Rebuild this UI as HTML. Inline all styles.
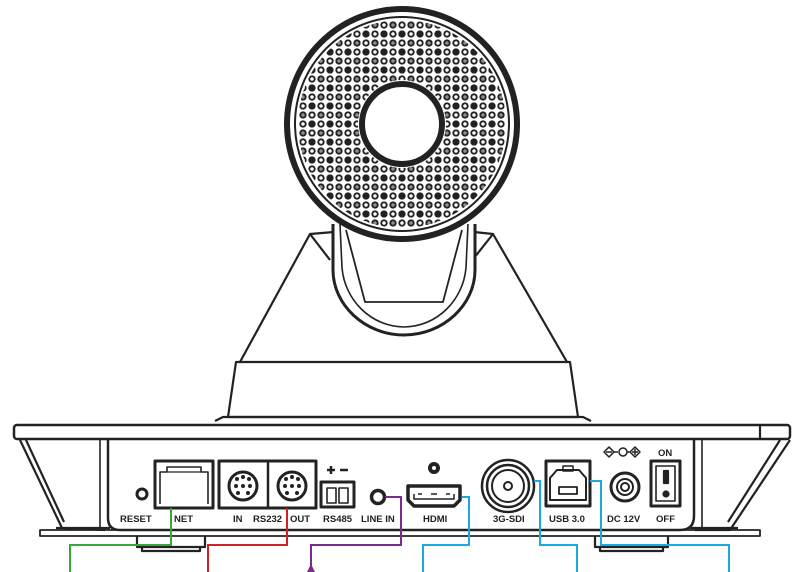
<!DOCTYPE html>
<html><head><meta charset="utf-8"><style>
html,body{margin:0;padding:0;background:#fff}
svg{display:block}
text{font-family:"Liberation Sans",sans-serif;font-weight:bold;font-size:9.5px;fill:#222}
</style></head><body>
<svg width="800" height="572" viewBox="0 0 800 572" xmlns="http://www.w3.org/2000/svg">
<defs>
<pattern id="p" width="9" height="9" patternUnits="userSpaceOnUse" x="397.5" y="119.5">
<circle cx="4.5" cy="4.5" r="2.7" fill="none" stroke="#222" stroke-width="1.9"/>
</pattern>
<pattern id="q" width="18" height="18" patternUnits="userSpaceOnUse" x="397.5" y="119.5">
<circle cx="4.5" cy="4.5" r="2.7" fill="#222"/>
<circle cx="13.5" cy="13.5" r="2.7" fill="#222" opacity="0.5"/>
</pattern>
</defs>
<g fill="none" stroke="#222" stroke-width="2.2" stroke-linejoin="round">
<path d="M240,362 L310,234 L334,232 M474,232 L493,234 L567,362" />
<path d="M310,234 L330,260 M493,234 L474,258"/>
<path d="M333,224 L333,270 C333,305 365,335 404,335 C443,335 475,305 475,270 L475,224" stroke-width="3"/>
<path d="M340,224 L342,268 C345,300 370,326 404,327 C438,326 463,300 466,268 L468,224" stroke-width="1.6"/>
<path d="M346,230 L365,302 L443,302 L462,230" stroke-width="1.8"/>
<path d="M236,362 L570,362 L578,417 L228,417 Z"/>
<path d="M215,421 L223,417 L583,417 L591,421"/>
<rect x="14" y="425" width="776" height="14" rx="3" stroke-width="2.5"/>
<line x1="760" y1="425" x2="760" y2="439"/>
<path d="M20,440 L62,528 L105,530 M26,440 L64,522"/>
<path d="M790,440 L730,530 L695,530 M780,440 L728,522"/>
<path d="M108,440 L108,518 Q108,530 120,530 L680,530 Q694,530 694,516 L694,440" stroke-width="2.5"/>
<path d="M100,440 L100,530 M702,440 L702,530" stroke-width="1.6"/>
<path d="M56,528 L110,528 M690,528 L738,528" />
<rect x="40" y="530" width="720" height="6" stroke-width="1.8"/>
<path d="M137,536 L137,547 L205,547 L205,536 M142,547 L142,551 L200,551 L200,547" />
<path d="M595,536 L595,547 L668,547 L668,536 M600,547 L600,551 L663,551 L663,547" />
<circle cx="142" cy="494" r="5" stroke-width="3"/>
<rect x="155" y="461" width="58" height="47" stroke-width="3"/>
<path d="M160,504 L160,472 L167,472 L167,467 L201,467 L201,472 L208,472 L208,504" stroke-width="1.6"/>
<path d="M167,472 L201,472" stroke-width="1.2"/>
<rect x="219" y="461" width="97" height="47" stroke-width="3"/>
<line x1="268" y1="461" x2="268" y2="508" stroke-width="2.5"/>
<circle cx="243" cy="486" r="14" stroke-width="3"/>
<circle cx="292" cy="486" r="14" stroke-width="3"/>
<rect x="321" y="482" width="33" height="25" stroke-width="3"/>
<rect x="327" y="488" width="9" height="15" stroke-width="1.6"/>
<rect x="339" y="488" width="9" height="15" stroke-width="1.6"/>
<path d="M327,470 h8 M331,466 v8 M340,470 h8" stroke-width="2.5"/>
<circle cx="378" cy="497" r="6.5" stroke-width="3.5"/>
<circle cx="434" cy="468" r="4" stroke-width="4"/>
<path d="M408,486 L460,486 L460,500 L454,506 L414,506 L408,500 Z" stroke-width="3.5"/>
<path d="M414,494 v5 h40 v-5 M418,494 h4 M431,494 h6 M446,494 h4" stroke-width="1.5"/>
<circle cx="508" cy="486" r="26" stroke-width="2.5"/>
<circle cx="508" cy="486" r="21" stroke-width="2.5"/>
<circle cx="508" cy="486" r="16" stroke-width="2"/>
<circle cx="508" cy="486" r="4" stroke-width="2"/>
<rect x="546" y="461" width="44" height="45" stroke-width="3"/>
<path d="M550,500 L550,478 L557,470 L579,470 L586,478 L586,500 Z" stroke-width="2"/>
<rect x="563" y="466" width="10" height="5" stroke-width="1.5"/>
<rect x="559" y="487" width="18" height="7" stroke-width="1.8"/>
<circle cx="625" cy="487" r="14" stroke-width="3"/>
<circle cx="625" cy="487" r="8" stroke-width="2"/>
<circle cx="625" cy="487" r="4" stroke-width="2"/>
<path d="M604,452 l5,-5 l5,5 l-5,5 z M614,452 h4 M627,452 h4 M630,452 l5,-5 l5,5 l-5,5 z M606,452 h6 M632,452 h6 M635,449 v6" stroke-width="1.5"/>
<circle cx="623" cy="452" r="4" stroke-width="1.5"/>
<rect x="651" y="461" width="29" height="45" stroke-width="3"/>
<rect x="656" y="466" width="19" height="35" stroke-width="1.6"/>
<rect x="664" y="471" width="4" height="12" fill="#222"/>
<circle cx="666" cy="494" r="2.5" fill="#222"/>
</g>
<!-- mini-DIN pins -->
<g fill="#222">
<circle cx="237" cy="479" r="2"/><circle cx="243" cy="477" r="2"/><circle cx="249" cy="479" r="2"/>
<circle cx="236" cy="486" r="2"/><circle cx="243" cy="486" r="2"/><circle cx="250" cy="486" r="2"/>
<circle cx="238" cy="493" r="2"/><circle cx="248" cy="493" r="2"/>
<circle cx="286" cy="479" r="2"/><circle cx="292" cy="477" r="2"/><circle cx="298" cy="479" r="2"/>
<circle cx="285" cy="486" r="2"/><circle cx="292" cy="486" r="2"/><circle cx="299" cy="486" r="2"/>
<circle cx="287" cy="493" r="2"/><circle cx="297" cy="493" r="2"/>
</g>
<!-- lens -->
<path d="M402,20 a104,104 0 1,0 0.01,0 Z M402,80 a44,44 0 1,1 -0.01,0 Z" fill="url(#p)" fill-rule="evenodd"/>
<path d="M402,20 a104,104 0 1,0 0.01,0 Z M402,80 a44,44 0 1,1 -0.01,0 Z" fill="url(#q)" fill-rule="evenodd"/>
<circle cx="402" cy="124" r="115" fill="none" stroke="#222" stroke-width="6"/>
<circle cx="402" cy="124" r="107" fill="none" stroke="#222" stroke-width="2"/>
<circle cx="402" cy="124" r="40" fill="none" stroke="#222" stroke-width="6"/>
<g fill="none" stroke-width="2">
<path d="M171,508 V545 H70 V572" stroke="#3aa53a"/>
<path d="M287,508 V545 H208 V572" stroke="#d42020"/>
<path d="M385,497 H401 V545 H311 V572" stroke="#7b2b8e"/>
<path d="M462,497 H469 V545 H423 V572" stroke="#1aa9e0"/>
<path d="M534,481 H540 V545 H577 V572" stroke="#1aa9e0"/>
<path d="M590,481 H601 V545 H729 V572" stroke="#1aa9e0"/>
</g>
<path d="M307,572 L311,564 L315,572 Z" fill="#7b2b8e"/>
<text x="120" y="522">RESET</text>
<text x="174" y="522">NET</text>
<text x="233" y="522">IN</text>
<text x="253" y="522">RS232</text>
<text x="290" y="522">OUT</text>
<text x="323" y="522">RS485</text>
<text x="361" y="522">LINE IN</text>
<text x="423" y="522">HDMI</text>
<text x="493" y="522">3G-SDI</text>
<text x="549" y="522">USB 3.0</text>
<text x="607" y="522">DC 12V</text>
<text x="656" y="522">OFF</text>
<text x="658" y="456">ON</text>
</svg>
</body></html>
